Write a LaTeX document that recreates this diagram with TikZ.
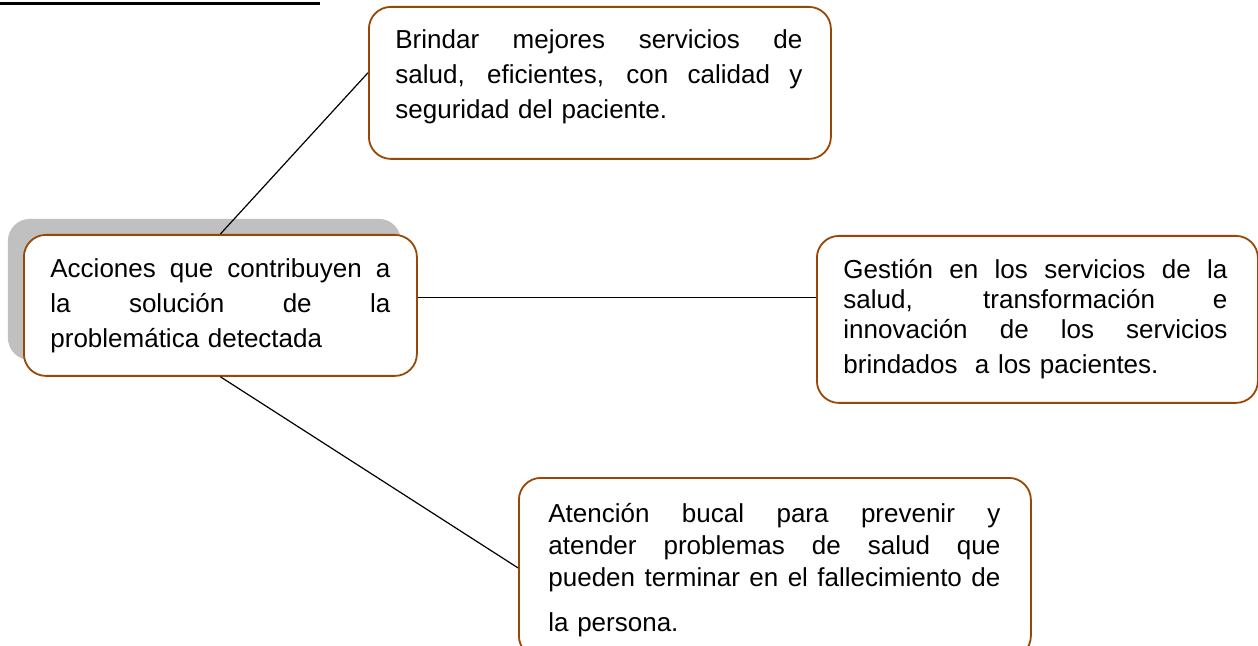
\documentclass[tikz,border=0pt]{standalone}
\usepackage{fontspec}
\setmainfont{Liberation Sans}
\usetikzlibrary{calc,shadows}
\definecolor{boxbrown}{RGB}{152,72,6}
\definecolor{shadowgray}{RGB}{192,192,192}
\newcommand{\jline}[1]{\makebox[\linewidth][s]{\spaceskip=0pt\xspaceskip=0pt\relax #1}}
\begin{document}
\begin{tikzpicture}[x=0.5pt,y=-0.5pt,
  box/.style={draw=boxbrown, line width=0.9pt, rounded corners=11pt, fill=white, inner sep=0pt, anchor=north west},
  txt/.style={inner sep=0pt, anchor=north west, align=left},
  conn/.style={draw=black, line width=0.6pt},
  rule/.style={draw=black, line width=1.6pt}]
\useasboundingbox (0,0) rectangle (1258,646);
\coordinate (r0) at (0,3.5);
\coordinate (r1) at (320,3.5);
\draw[rule] (r0) -- (r1);

% top box
\node[box, minimum width=231pt, minimum height=76pt] (b1) at (368,6) {};
\node[txt, text width=203.5pt, font=\fontsize{13}{17.5}\selectfont] (t1) at (395,23.5)
  {\strut\jline{Brindar mejores servicios de}\\\jline{salud, eficientes, con calidad y}\\seguridad del paciente.};

% central box
\node[box, minimum width=196.5pt, minimum height=70.5pt,
  general shadow={fill=shadowgray, shadow xshift=-8pt, shadow yshift=8pt}] (c) at (23,234) {};
\node[txt, text width=170pt, font=\fontsize{13}{17.5}\selectfont] (tc) at (50,252.5)
  {\strut\jline{Acciones que contribuyen a}\\\jline{la solución de la}\\problemática detectada};

% right box
\node[box, minimum width=220.5pt, minimum height=83.5pt] (r) at (816,235) {};
\node[txt, text width=192pt, font=\fontsize{13}{15}\selectfont] (tr) at (843,257)
  {\strut\jline{Gestión en los servicios de la}\\\jline{salud, transformación e}\\\jline{innovación de los servicios}\\[2.5pt]brindados\ \ a los pacientes.};

% bottom box
\node[box, minimum width=256pt, minimum height=90pt] (b3) at (518,477) {};
\node[txt, text width=226pt, font=\fontsize{13}{16}\selectfont] (t3) at (548,499.6)
  {\strut\jline{Atención bucal para prevenir y}\\\jline{atender problemas de salud que}\\\jline{pueden terminar en el fallecimiento de}\\[6.5pt]la persona.};

% connectors
\draw[conn] (c.north) -- ($(b1.north west)!0.434!(b1.south west)$);
\coordinate (h) at ($(c.north east)!0.447!(c.south east)$);
\draw[conn] (h) -- (h -| r.west);
\draw[conn] (c.south) -- (b3.west);
\end{tikzpicture}
\end{document}
